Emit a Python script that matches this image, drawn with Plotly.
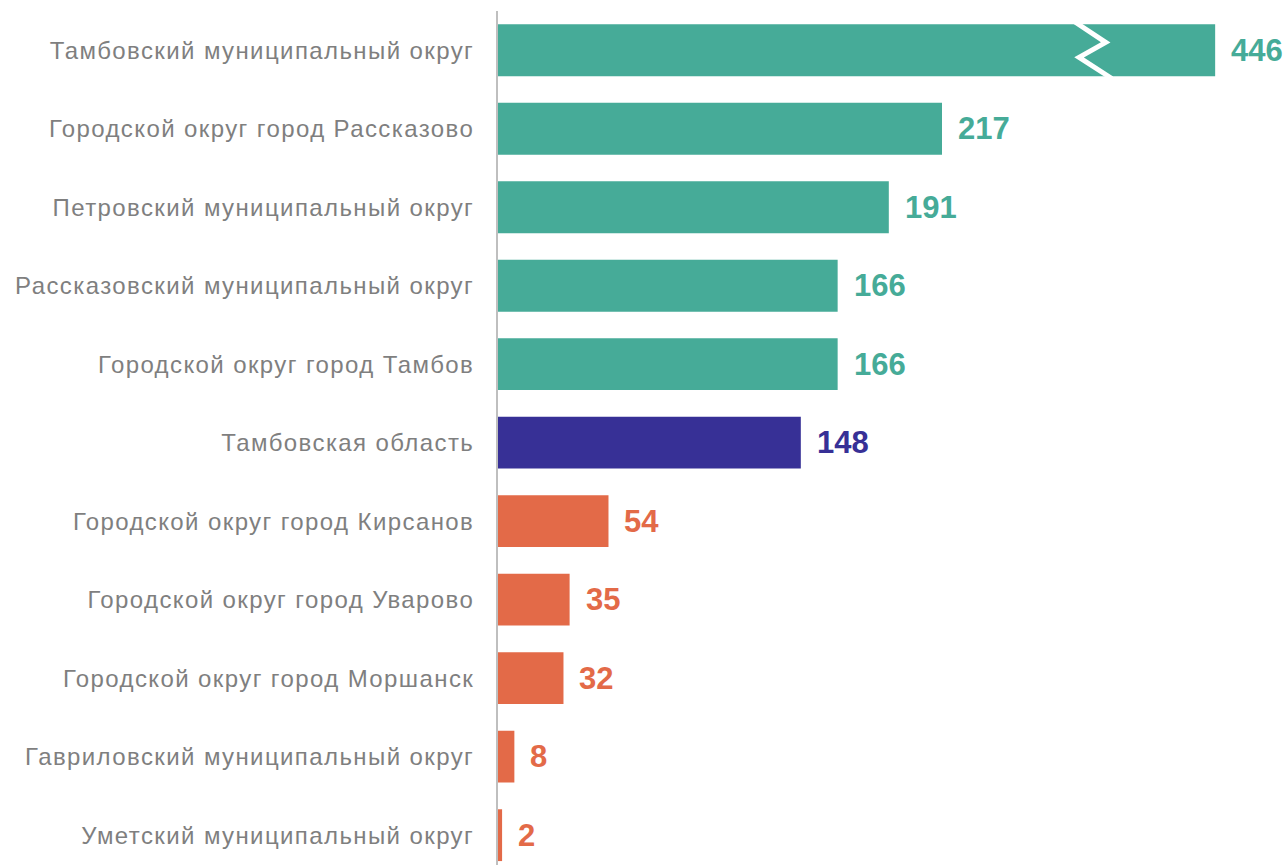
import plotly.graph_objects as go

categories = [
    "Тамбовский муниципальный округ",
    "Городской округ город Рассказово",
    "Петровский муниципальный округ",
    "Рассказовский муниципальный округ",
    "Городской округ город Тамбов",
    "Тамбовская область",
    "Городской округ город Кирсанов",
    "Городской округ город Уварово",
    "Городской округ город Моршанск",
    "Гавриловский муниципальный округ",
    "Уметский муниципальный округ",
]
values = [446, 217, 191, 166, 166, 148, 54, 35, 32, 8, 2]

TEAL = "#46AB98"
NAVY = "#373096"
ORANGE = "#E36A48"
colors = [TEAL] * 5 + [NAVY] + [ORANGE] * 5

# Top bar is drawn with a scale break
BREAK_DISPLAY = 350.5
display = [min(v, BREAK_DISPLAY) for v in values]
ypos = list(range(len(categories)))
BAR_W = 0.66

fig = go.Figure()
fig.add_trace(go.Bar(
    x=display, y=ypos, orientation="h",
    marker=dict(color=colors, line=dict(width=0)),
    width=BAR_W, hoverinfo="skip",
))

for i, (v, d, c) in enumerate(zip(values, display, colors)):
    fig.add_annotation(
        x=d, y=i, text=f"<b>{v}</b>", showarrow=False,
        xanchor="left", yanchor="middle", xshift=14,
        font=dict(family="Liberation Sans, Arial", size=31, color=c),
    )

# break zigzag on the top bar
h = BAR_W / 2
zx = [282, 297, 284, 300]
zy = [-h - 0.03, -0.1, 0.09, h + 0.03]
path = "M {} {} L {} {} L {} {} L {} {}".format(
    zx[0], zy[0], zx[1], zy[1], zx[2], zy[2], zx[3], zy[3])
fig.add_shape(type="path", path=path, xref="x", yref="y",
              line=dict(color="white", width=5))

fig.update_layout(
    width=1288, height=865,
    margin=dict(l=498, r=0, t=11, b=0),
    plot_bgcolor="white", paper_bgcolor="white",
    showlegend=False, bargap=0.34,
    font=dict(family="Liberation Sans, Arial", size=24, color="#7F7F7F"),
)
fig.update_xaxes(range=[0, 386.1], visible=False, showgrid=False, zeroline=False)
fig.update_yaxes(
    range=[10.38, -0.5], tickvals=ypos, ticktext=categories,
    showgrid=False, zeroline=False, showline=True,
    linecolor="#BFBFBF", linewidth=2, ticks="", ticklabelstandoff=17,
    tickfont=dict(family="Liberation Sans, Arial", size=24, color="#7F7F7F"),
)

post = """
document.body.style.margin = '0';
document.body.style.overflow = 'hidden';
document.querySelectorAll('.ytick text').forEach(function(t){
  t.style.letterSpacing = '1.4px';
});
"""
fig.write_html("out.html", post_script=post,
               config={"displayModeBar": False, "staticPlot": True})
